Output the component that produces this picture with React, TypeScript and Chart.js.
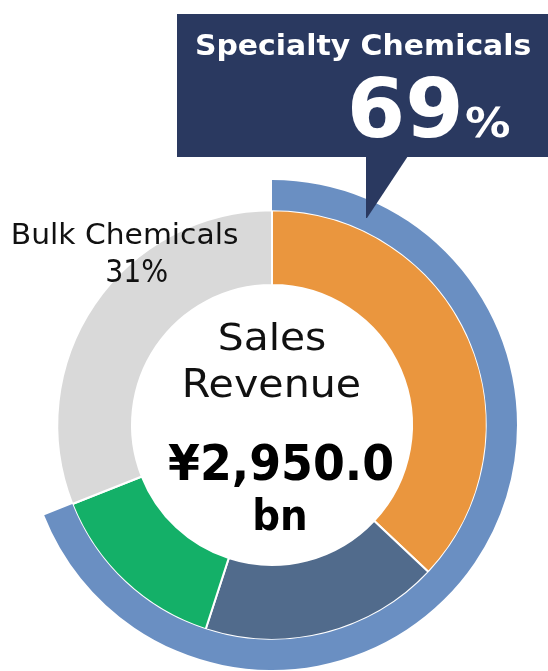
import React, { useEffect, useRef } from "react";
import { Chart, registerables } from "chart.js";

Chart.register(...registerables);

// ---- data ----
const segmentLabels = ["Specialty A", "Specialty B", "Specialty C", "Bulk Chemicals"];
const segmentValues = [37, 18, 14, 31];
const segmentColors = ["#EA963E", "#516B8C", "#14B068", "#D9D9D9"];

const groupLabels = ["Specialty Chemicals", "Bulk Chemicals"];
const groupValues = [69, 31];
const groupColors = ["#6A8FC2", "rgba(0,0,0,0)"];

const centerTitle = ["Sales", "Revenue"];
const centerValue = "¥2,950.0";
const centerUnit = "bn";

const FONT = '"DejaVu Sans", Verdana, sans-serif';
const NAVY = "#2A3960";

// draw text so that its ink spans [left,right] and rises from baseline to top
function drawFit(
  ctx: CanvasRenderingContext2D,
  text: string,
  weight: string,
  left: number,
  right: number,
  top: number,
  baseline: number,
  color: string
) {
  const base = 100;
  ctx.font = `${weight} ${base}px ${FONT}`;
  let m = ctx.measureText(text);
  const size = (base * (baseline - top)) / m.actualBoundingBoxAscent;
  ctx.font = `${weight} ${size}px ${FONT}`;
  m = ctx.measureText(text);
  const ink = m.actualBoundingBoxLeft + m.actualBoundingBoxRight;
  const sx = (right - left) / ink;
  ctx.save();
  ctx.fillStyle = color;
  ctx.textAlign = "left";
  ctx.textBaseline = "alphabetic";
  ctx.translate(left, baseline);
  ctx.scale(sx, 1);
  ctx.fillText(text, m.actualBoundingBoxLeft, 0);
  ctx.restore();
}

const overlayPlugin = {
  id: "overlay",
  afterDraw(chart: any) {
    const ctx: CanvasRenderingContext2D = chart.ctx;
    ctx.save();
    // callout box
    ctx.fillStyle = NAVY;
    ctx.fillRect(177, 14, 371, 143);
    ctx.beginPath();
    ctx.moveTo(366, 156);
    ctx.lineTo(408, 156);
    ctx.lineTo(367, 218);
    ctx.lineTo(366, 218);
    ctx.closePath();
    ctx.fill();

    drawFit(ctx, groupLabels[0], "bold", 197, 530, 33, 55, "#FFFFFF");
    drawFit(ctx, String(groupValues[0]), "bold", 352, 459, 76, 137, "#FFFFFF");
    drawFit(ctx, "%", "bold", 466, 510, 106, 137, "#FFFFFF");

    drawFit(ctx, groupLabels[1], "normal", 13, 238, 223, 244, "#111111");
    drawFit(ctx, `${groupValues[1]}%`, "normal", 107, 167, 258, 282, "#111111");

    drawFit(ctx, centerTitle[0], "normal", 220, 325, 322, 350, "#111111");
    drawFit(ctx, centerTitle[1], "normal", 185, 360, 368, 397, "#111111");
    drawFit(ctx, centerValue, "bold", 168, 392, 443, 480, "#000000");
    drawFit(ctx, centerUnit, "bold", 255, 305, 498, 530, "#000000");
    ctx.restore();
  },
};

export default function App() {
  const ref = useRef<HTMLCanvasElement | null>(null);
  useEffect(() => {
    if (!ref.current) return;
    const chart = new Chart(ref.current, {
      type: "doughnut",
      data: {
        labels: segmentLabels,
        datasets: [
          {
            label: "Group",
            data: groupValues,
            backgroundColor: groupColors,
            borderWidth: 0,
            weight: 30,
          } as any,
          {
            label: "Segments",
            data: segmentValues,
            backgroundColor: segmentColors,
            borderColor: "#FFFFFF",
            borderWidth: 2,
            weight: 74,
          } as any,
        ],
      },
      options: {
        responsive: false,
        maintainAspectRatio: false,
        animation: false,
        cutout: 140,
        layout: { padding: { left: 27, right: 31, top: 180, bottom: 1 } },
        plugins: {
          legend: { display: false },
          tooltip: { enabled: false },
        },
      },
      plugins: [overlayPlugin],
    });
    return () => chart.destroy();
  }, []);
  return (
    <div style={{ position: "absolute", left: 0, top: 0, width: 548, height: 671, background: "#fff" }}>
      <canvas ref={ref} width={548} height={671} style={{ display: "block" }} />
    </div>
  );
}
